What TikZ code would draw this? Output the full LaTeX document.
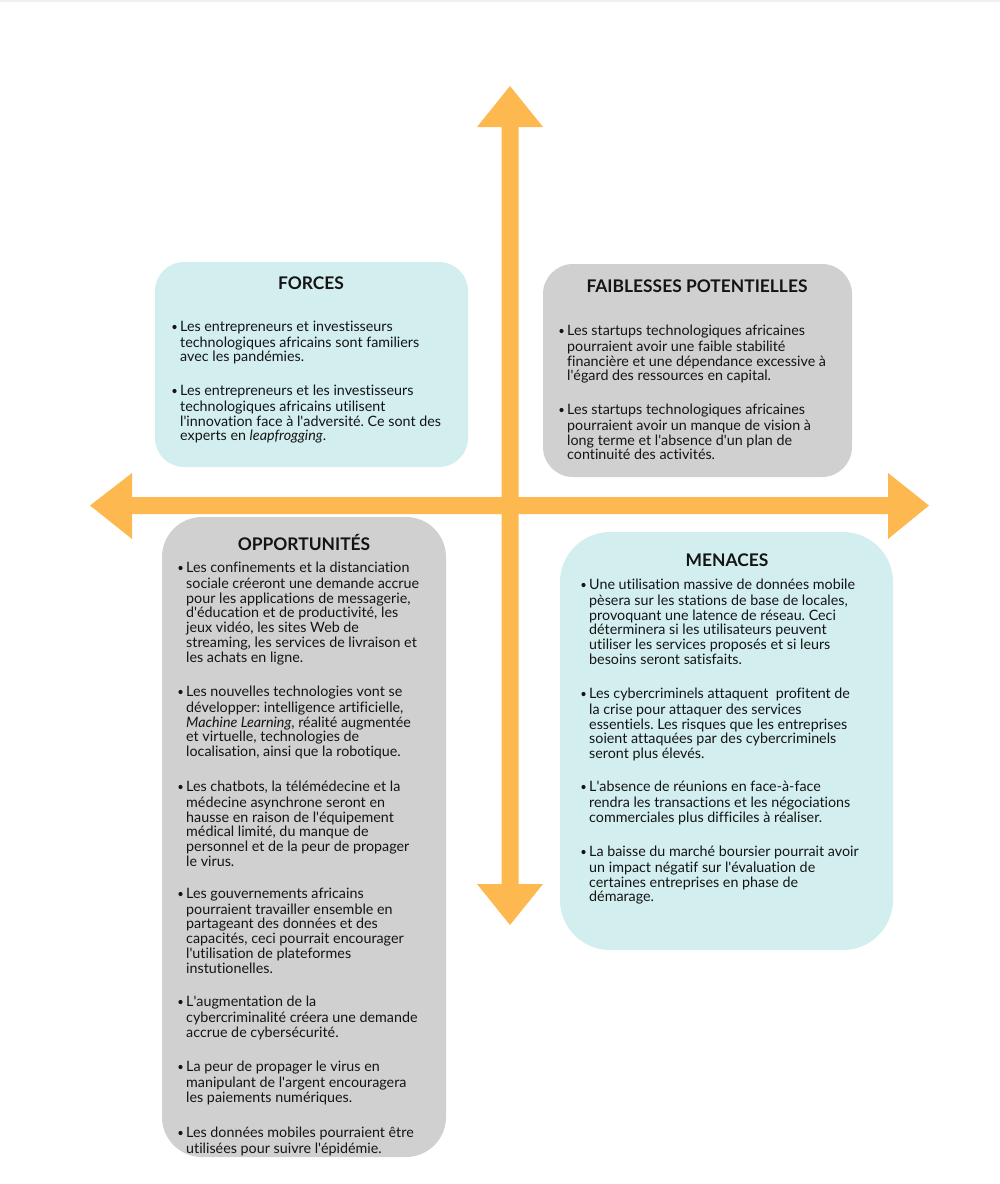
\documentclass[tikz,border=0pt]{standalone}
\usepackage{fontspec}
\setmainfont{Lato}[Ligatures={NoCommon}]
\definecolor{axis}{RGB}{253,185,80}
\definecolor{cyanbox}{RGB}{210,238,239}
\definecolor{greybox}{RGB}{208,208,208}
\definecolor{ink}{RGB}{20,20,20}
\newcommand\q{\textquotesingle}
\frenchspacing
\begin{document}
\begin{tikzpicture}[x=1pt,y=-1pt,
  box/.style={inner sep=0pt, draw=none, rounded corners=#1},
  ttl/.style={inner sep=0pt, anchor=base, font=\fontsize{17.4}{19}\selectfont\bfseries, text=ink},
  item/.style={inner sep=0pt, anchor=north west, align=left, text=ink,
     font=\fontsize{14.3}{14.8}\selectfont\frenchspacing}]
\newcommand\bitem[4]{%
  \node[item] (#1) at (#2,#3-5.5) {\strut #4};
  \fill[ink] (#1.north west) ++(-5.5,6.5) circle (2.1);}
\useasboundingbox (0,0) rectangle (1000,1184);
\fill[white] (0,0) rectangle (1000,1184);
\fill[black!6] (0,0) rectangle (1000,2);
% axes
\fill[axis] (510,86) -- (543,127) -- (518.5,127) -- (518.5,884) -- (543,884) -- (510,925)
  -- (477,884) -- (501.5,884) -- (501.5,127) -- (477,127) -- cycle;
\fill[axis] (90,505.5) -- (132,473) -- (132,497) -- (888,497) -- (888,473) -- (929,505.5)
  -- (888,539) -- (888,514) -- (132,514) -- (132,539) -- cycle;
% boxes
\node[box=29, fill=cyanbox, minimum width=313, minimum height=205] (bF) at (311.5,364.5) {};
\node[box=30, fill=greybox, minimum width=309, minimum height=213] (bW) at (697.5,370.5) {};
\node[box=40, fill=greybox, minimum width=284, minimum height=640] (bO) at (304,837) {};
\node[box=50, fill=cyanbox, minimum width=333, minimum height=418] (bM) at (726.5,741) {};
% titles
\node[ttl] (tF) at (311,289) {FORCES};
\node[ttl] (tW) at (697,292) {FAIBLESSES POTENTIELLES};
\node[ttl] (tO) at (304,550) {OPPORTUNITÉS};
\node[ttl] (tM) at (727,566) {MENACES};
% FORCES
\bitem{f1}{180}{326}{Les entrepreneurs et investisseurs\\technologiques africains sont familiers\\avec les pandémies.}
\bitem{f2}{180}{390}{Les entrepreneurs et les investisseurs\\technologiques africains utilisent\\l\q innovation face à l\q adversité. Ce sont des\\experts en \textit{leapfrogging}.}
% FAIBLESSES
\bitem{w1}{567}{330}{Les startups technologiques africaines\\pourraient avoir une faible stabilité\\financière et une dépendance excessive à\\l\q égard des ressources en capital.}
\bitem{w2}{567}{409}{Les startups technologiques africaines\\pourraient avoir un manque de vision à\\long terme et l\q absence d\q un plan de\\continuité des activités.}
% OPPORTUNITES
\bitem{o1}{186}{567}{Les confinements et la distanciation\\sociale créeront une demande accrue\\pour les applications de messagerie,\\d\q éducation et de productivité, les\\jeux vidéo, les sites Web de\\streaming, les services de livraison et\\les achats en ligne.}
\bitem{o2}{186}{691}{Les nouvelles technologies vont se\\développer: intelligence artificielle,\\\textit{Machine Learning}, réalité augmentée\\et virtuelle, technologies de\\localisation, ainsi que la robotique.}
\bitem{o3}{186}{786}{Les chatbots, la télémédecine et la\\médecine asynchrone seront en\\hausse en raison de l\q équipement\\médical limité, du manque de\\personnel et de la peur de propager\\le virus.}
\bitem{o4}{186}{893}{Les gouvernements africains\\pourraient travailler ensemble en\\partageant des données et des\\capacités, ceci pourrait encourager\\l\q utilisation de plateformes\\instutionelles.}
\bitem{o5}{186}{1001}{L\q augmentation de la\\cybercriminalité créera une demande\\accrue de cybersécurité.}
\bitem{o6}{186}{1066}{La peur de propager le virus en\\manipulant de l\q argent encouragera\\les paiements numériques.}
\bitem{o7}{186}{1132}{Les données mobiles pourraient être\\utilisées pour suivre l\q épidémie.}
% MENACES
\bitem{m1}{589}{584}{Une utilisation massive de données mobile\\pèsera sur les stations de base de locales,\\provoquant une latence de réseau. Ceci\\déterminera si les utilisateurs peuvent\\utiliser les services proposés et si leurs\\besoins seront satisfaits.}
\bitem{m2}{589}{693}{Les cybercriminels attaquent\ \ profitent de\\la crise pour attaquer des services\\essentiels. Les risques que les entreprises\\soient attaquées par des cybercriminels\\seront plus élevés.}
\bitem{m3}{589}{786}{L\q absence de réunions en face-à-face\\rendra les transactions et les négociations\\commerciales plus difficiles à réaliser.}
\bitem{m4}{589}{851}{La baisse du marché boursier pourrait avoir\\un impact négatif sur l\q évaluation de\\certaines entreprises en phase de\\démarage.}
\end{tikzpicture}
\end{document}
